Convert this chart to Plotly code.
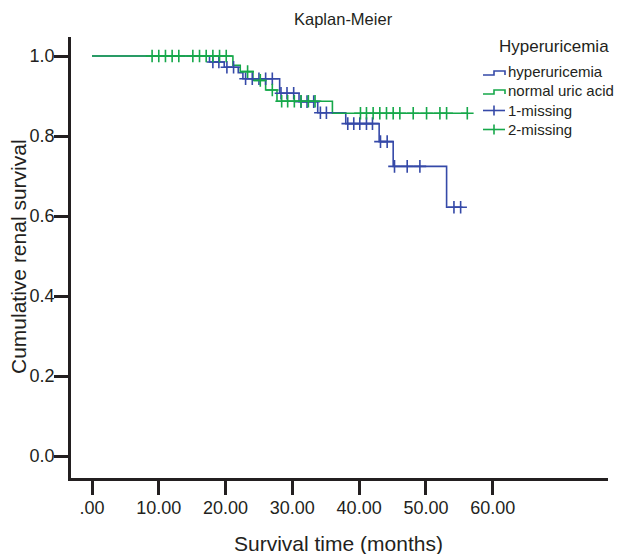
import numpy as np
import plotly.graph_objects as go

# ---------------- data ----------------
blue_name = "hyperuricemia"
green_name = "normal uric acid"

blue_times = [0, 17.6, 19.8, 21.9, 22.6, 28.1, 31.0, 33.8, 38.0, 43.0, 45.1, 53.1, 55.5]
blue_surv = [1.0, 0.985, 0.972, 0.958, 0.943, 0.907, 0.886, 0.858, 0.831, 0.786, 0.724, 0.622, 0.622]
blue_censor = [18.1, 19.0, 20.2, 21.2, 23.0, 24.0, 25.0, 26.0, 27.0, 28.3, 29.2, 30.2,
               31.3, 32.2, 33.2, 34.2, 35.1, 38.3, 39.2, 40.1, 41.1, 42.0, 43.2, 44.2,
               45.3, 47.2, 49.1, 54.2, 55.2]

green_times = [0, 21.1, 22.2, 24.1, 26.0, 27.7, 36.0, 56.3]
green_surv = [1.0, 0.977, 0.961, 0.939, 0.915, 0.887, 0.857, 0.857]
green_censor = [9.0, 10.0, 11.0, 12.0, 13.0, 15.1, 16.1, 17.1, 18.1, 19.1, 20.1, 23.3,
                25.2, 27.0, 28.4, 29.3, 30.3, 31.3, 32.4, 33.4, 40.2, 41.1, 42.1, 43.1,
                44.1, 45.1, 46.1, 48.1, 50.1, 52.1, 53.1, 56.2]

x_tickvals = [0, 10, 20, 30, 40, 50, 60]
x_ticktext = [".00", "10.00", "20.00", "30.00", "40.00", "50.00", "60.00"]
y_tickvals = [0.0, 0.2, 0.4, 0.6, 0.8, 1.0]

legend_title = "Hyperuricemia"
legend_labels = ["hyperuricemia", "normal uric acid", "1-missing", "2-missing"]

BLUE = "#3549a8"
GREEN = "#16a84a"
AXIS = "#231f20"
TXT = "#231f20"
FONT = "Liberation Sans, Arial, sans-serif"


def surv_at(times, surv, t):
    idx = np.searchsorted(np.asarray(times), np.asarray(t), side="right") - 1
    return np.asarray(surv)[idx]


# page has an 8px body margin: the figure starts at (8, 8) of the window
OFF = 8
W, H = 623 - OFF, 554 - OFF
L, R, T, B = 71 - OFF, 608 - OFF, 37 - OFF, 478 - OFF


def px(xp):
    return (xp - OFF - L) / (R - L)


def py(yp):
    return (B - (yp - OFF)) / (B - T)


fig = go.Figure()
fig.add_trace(go.Scatter(x=blue_times, y=blue_surv, mode="lines", line_shape="hv",
                         line=dict(color=BLUE, width=1.6), showlegend=False,
                         name=blue_name))
fig.add_trace(go.Scatter(x=green_times, y=green_surv, mode="lines", line_shape="hv",
                         line=dict(color=GREEN, width=1.6), showlegend=False,
                         name=green_name))
fig.add_trace(go.Scatter(x=blue_censor, y=surv_at(blue_times, blue_surv, blue_censor),
                         mode="markers", showlegend=False, name="1-missing",
                         marker=dict(symbol="cross-thin", size=9,
                                     line=dict(color=BLUE, width=1.6))))
fig.add_trace(go.Scatter(x=green_censor, y=surv_at(green_times, green_surv, green_censor),
                         mode="markers", showlegend=False, name="2-missing",
                         marker=dict(symbol="cross-thin", size=9,
                                     line=dict(color=GREEN, width=1.6))))

# ---- manual legend (step and plus glyphs); coordinates are window pixels ----
shapes = []
annotations = []
row_y = [71.5, 90.5, 110.5, 129.5]
colors = [BLUE, GREEN, BLUE, GREEN]
for i, (lab, yc, col) in enumerate(zip(legend_labels, row_y, colors)):
    if i < 2:
        y0 = yc + 3.5
        y1 = yc - 0.5
        path = (f"M {px(483)} {py(y0)} L {px(494)} {py(y0)} L {px(494)} {py(y1)} "
                f"L {px(505)} {py(y1)} L {px(505)} {py(y0)}")
        shapes.append(dict(type="path", xref="paper", yref="paper", path=path,
                           line=dict(color=col, width=1.6)))
    else:
        shapes.append(dict(type="line", xref="paper", yref="paper",
                           x0=px(483), x1=px(505), y0=py(yc), y1=py(yc),
                           line=dict(color=col, width=1.6)))
        shapes.append(dict(type="line", xref="paper", yref="paper",
                           x0=px(494), x1=px(494), y0=py(yc - 5), y1=py(yc + 5),
                           line=dict(color=col, width=1.6)))
    annotations.append(dict(text=lab, xref="paper", yref="paper", x=px(506), y=py(yc),
                            xanchor="left", yanchor="middle", showarrow=False,
                            font=dict(size=15, color=TXT, family=FONT)))

annotations.append(dict(text=legend_title, xref="paper", yref="paper",
                        x=px(554), y=py(46), xanchor="center", yanchor="middle",
                        showarrow=False, font=dict(size=17, color=TXT, family=FONT)))

# axis titles
annotations.append(dict(text="Survival time (months)", xref="paper", yref="paper",
                        x=px(338), y=py(543), xanchor="center", yanchor="middle",
                        showarrow=False, font=dict(size=21, color=TXT, family=FONT)))
annotations.append(dict(text="Cumulative renal survival", xref="paper", yref="paper",
                        x=px(18), y=py(257), xanchor="center", yanchor="middle",
                        textangle=-90, showarrow=False,
                        font=dict(size=21, color=TXT, family=FONT)))
annotations.append(dict(text="Kaplan-Meier", xref="paper", yref="paper",
                        x=px(343), y=py(19), xanchor="center", yanchor="middle",
                        showarrow=False, font=dict(size=16.5, color=TXT, family=FONT)))

# data ranges: x=0 at 92px, 6.678 px/month; y=0 at 456px, 400 px/unit
x0v, x1v = (71 - 92) / 6.678, (608 - 92) / 6.678
y0v, y1v = (456 - 478) / 400, (456 - 37) / 400

fig.update_layout(
    width=W, height=H,
    margin=dict(l=L, r=W - R, t=T, b=H - B, pad=0),
    paper_bgcolor="white", plot_bgcolor="white",
    font=dict(family=FONT, color=TXT),
    shapes=shapes, annotations=annotations,
    xaxis=dict(range=[x0v, x1v], tickvals=x_tickvals, ticktext=x_ticktext,
               showline=True, linecolor=AXIS, linewidth=2.5, ticks="outside",
               ticklen=14, tickwidth=2.5, tickcolor=AXIS, showgrid=False,
               zeroline=False, ticklabelstandoff=-2,
               tickfont=dict(size=18, color=TXT, family=FONT)),
    yaxis=dict(range=[y0v, y1v], tickvals=y_tickvals, tickformat=".1f",
               showline=True, linecolor=AXIS, linewidth=2.5, ticks="outside",
               ticklen=14, tickwidth=2.5, tickcolor=AXIS, showgrid=False,
               zeroline=False, ticklabelstandoff=-4,
               tickfont=dict(size=18, color=TXT, family=FONT)),
)

fig.write_html("out.html")
